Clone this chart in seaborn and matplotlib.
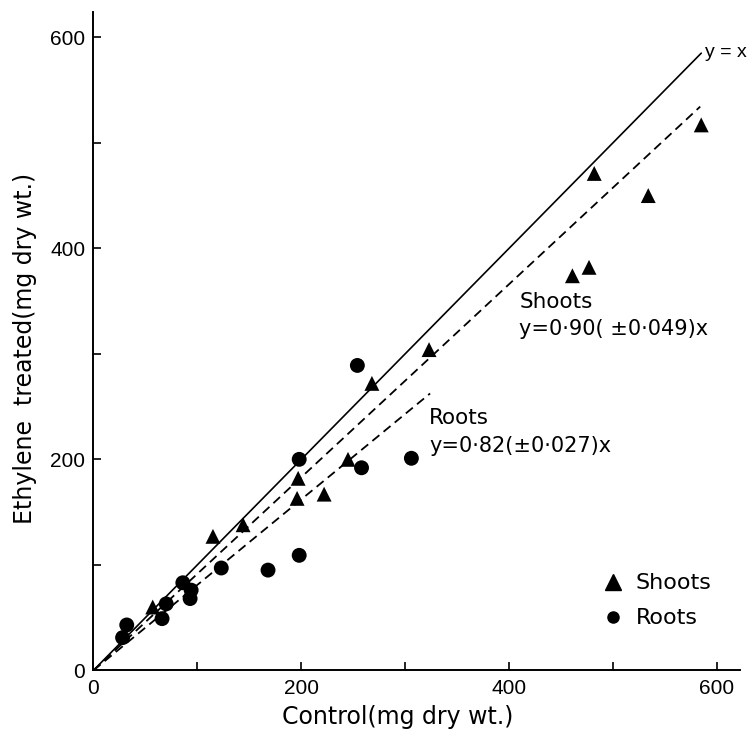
import numpy as np
import pandas as pd
import seaborn as sns
import matplotlib.pyplot as plt
from matplotlib.lines import Line2D

# values (mg dry wt.)
shoots_control = [57, 115, 144, 196, 197, 222, 245, 268, 323, 461, 477, 482, 534, 585]
shoots_ethylene = [60, 127, 138, 163, 182, 167, 200, 272, 304, 374, 382, 471, 450, 517]

roots_control = [28, 32, 66, 70, 86, 93, 94, 123, 168, 198, 198, 254, 258, 306]
roots_ethylene = [31, 43, 49, 63, 83, 68, 76, 97, 95, 109, 200, 289, 192, 201]

# fitted lines: (slope, x end)
identity_end = 585
shoots_slope, shoots_end = 0.915, 584
roots_slope, roots_end = 0.81, 324

sns.set_style("ticks")
plt.rcParams["font.family"] = ["Liberation Sans", "DejaVu Sans"]
plt.rcParams["text.color"] = "black"
plt.rcParams["axes.labelcolor"] = "black"
plt.rcParams["xtick.color"] = "black"
plt.rcParams["ytick.color"] = "black"
label_font = ["DejaVu Sans"]

df = pd.DataFrame({
    "control": shoots_control + roots_control,
    "ethylene": shoots_ethylene + roots_ethylene,
    "tissue": ["Shoots"] * len(shoots_control) + ["Roots"] * len(roots_control),
})

fig = plt.figure(figsize=(7.54, 7.38), dpi=100)
ax = fig.add_axes([0.124, 0.0917, 0.857, 0.892])

ax.plot([0, identity_end], [0, identity_end], color="black", lw=1.2)
ax.plot([0, shoots_end], [0, shoots_slope * shoots_end], color="black", lw=1.3,
        ls=(0, (5, 3)))
ax.plot([0, roots_end], [0, roots_slope * roots_end], color="black", lw=1.3,
        ls=(0, (5, 3)))

sns.scatterplot(
    data=df, x="control", y="ethylene", style="tissue", hue="tissue",
    markers={"Shoots": "^", "Roots": "o"},
    palette={"Shoots": "black", "Roots": "black"},
    s=115, edgecolor="black", linewidth=0, legend=False, ax=ax, zorder=3,
)

ax.set_xlim(0, 622)
ax.set_ylim(0, 624)
ax.set_xticks(np.arange(0, 601, 100))
ax.set_xticklabels(["0", "", "200", "", "400", "", "600"])
ax.set_yticks(np.arange(0, 601, 100))
ax.set_yticklabels(["0", "", "200", "", "400", "", "600"])
ax.tick_params(direction="in", length=6, width=1.2, labelsize=15, pad=6)
sns.despine(ax=ax)
for s in ["left", "bottom"]:
    ax.spines[s].set_linewidth(1.4)
    ax.spines[s].set_color("black")

ax.set_xlabel("Control(mg dry wt.)", fontsize=17, family=label_font)
ax.set_ylabel("Ethylene  treated(mg dry wt.)", fontsize=17, family=label_font)
ax.xaxis.set_label_coords(0.471, -0.052)
ax.yaxis.set_label_coords(-0.088, 0.489)

ax.text(589, 586, "y = x", fontsize=14, va="center", ha="left")
ax.text(410, 349, "Shoots", fontsize=15.5, va="center", ha="left", family=label_font)
ax.text(410, 324, "y=0·90( ±0·049)x", fontsize=15, va="center", ha="left",
        family=label_font)
ax.text(323, 239, "Roots", fontsize=15.5, va="center", ha="left", family=label_font)
ax.text(323, 213, "y=0·82(±0·027)x", fontsize=15, va="center", ha="left",
        family=label_font)

handles = [
    Line2D([], [], marker="^", color="black", ls="none", markersize=11),
    Line2D([], [], marker="o", color="black", ls="none", markersize=8),
]
ax.legend(handles, ["Shoots", "Roots"], loc="upper left",
          bbox_to_anchor=(0.77, 0.164), frameon=False,
          prop={"family": label_font, "size": 16}, borderpad=0,
          handlelength=1.0, handletextpad=0.5, labelspacing=0.67)

fig.savefig("out.png", dpi=100)
